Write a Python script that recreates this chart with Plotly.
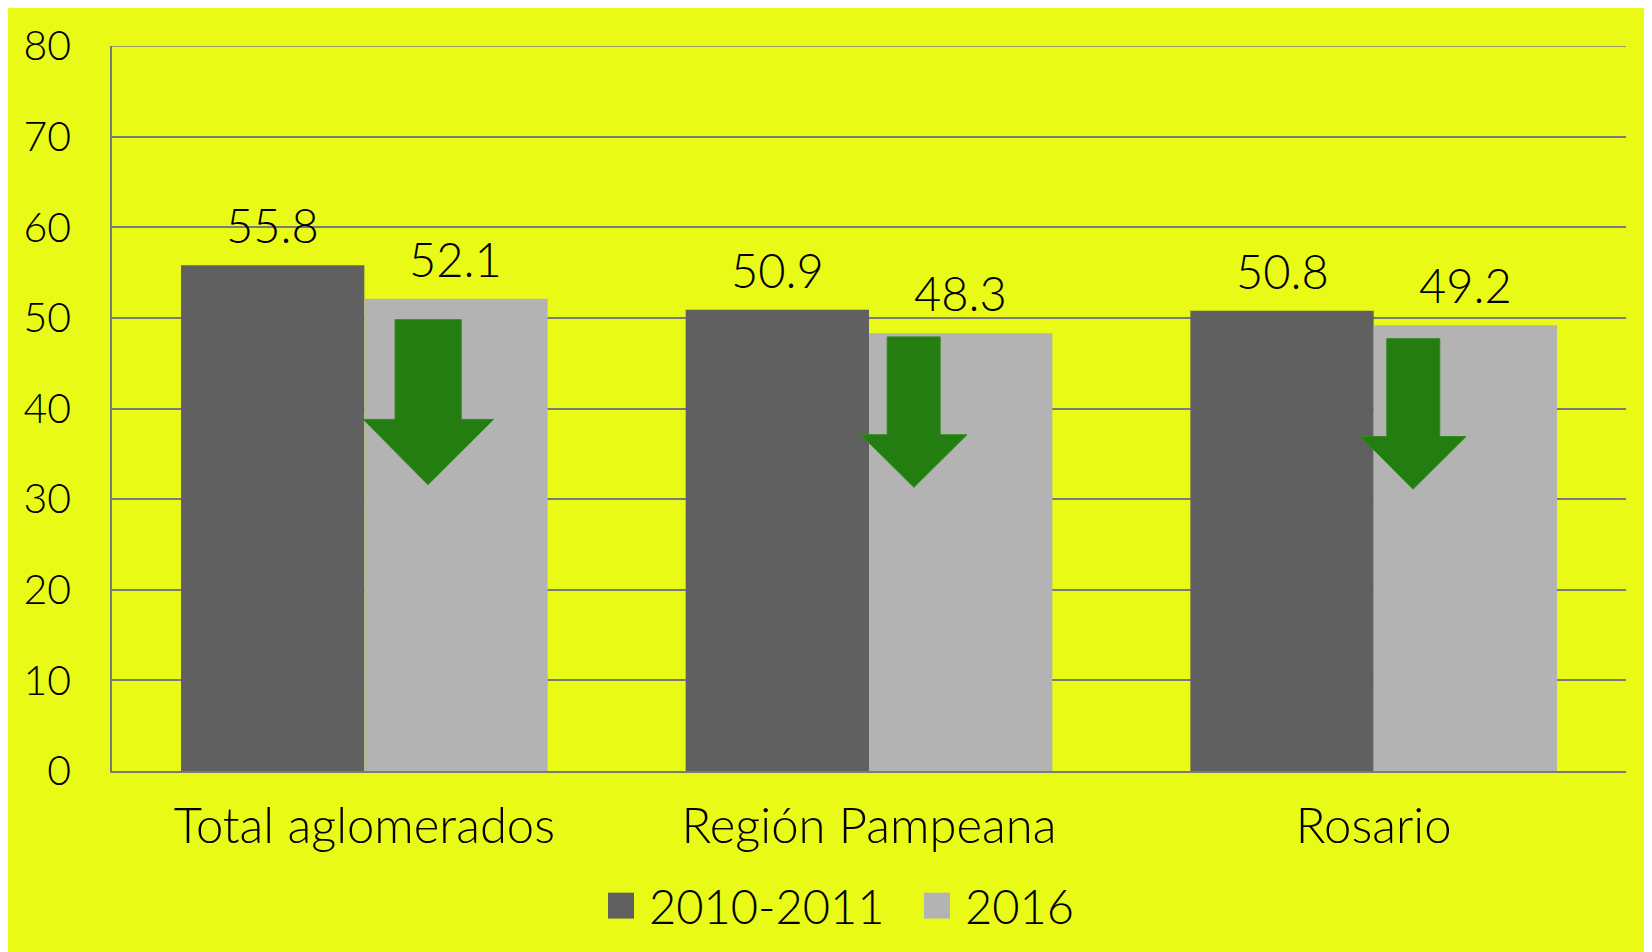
import plotly.graph_objects as go

categories = ["Total aglomerados", "Región Pampeana", "Rosario"]
series_names = ["2010-2011", "2016"]
values_2010 = [55.8, 50.9, 50.8]
values_2016 = [52.1, 48.3, 49.2]
y_ticks = [0, 10, 20, 30, 40, 50, 60, 70, 80]

# arrow geometry (value levels)
arrow_top = [49.8, 47.9, 47.7]
arrow_head = [38.8, 37.1, 36.9]
arrow_tip = [31.6, 31.3, 31.1]
# horizontal offsets within the category (category units)
arrow_shaft_l = [0.061, 0.036, 0.026]
arrow_shaft_r = [0.192, 0.141, 0.131]
arrow_head_l = [-0.002, -0.016, -0.026]
arrow_head_r = [0.256, 0.194, 0.183]
arrow_tip_x = [0.126, 0.089, 0.078]

YELLOW = "#E9FA16"
DARK = "#606060"
LIGHT = "#B3B3B3"
GREEN = "#237D10"
GRID = "#7A7A7A"
FONT = "Lato Light, Lato"

W, H = 1644, 944
ML, MR, MT, MB = 104, 26, 36, 181
PW = W - ML - MR
PH = H - MT - MB

BARGAP = 0.2735
bw = (1 - BARGAP) / 2
xs = list(range(len(categories)))

fig = go.Figure()
fig.add_trace(go.Bar(x=xs, y=values_2010, name=series_names[0], marker=dict(color=DARK, line=dict(width=0)),
                     showlegend=False))
fig.add_trace(go.Bar(x=xs, y=values_2016, name=series_names[1], marker=dict(color=LIGHT, line=dict(width=0)),
                     showlegend=False))

shapes = []
annotations = []


def px2paper_x(px):
    return (px - ML) / PW


def px2paper_y(py):
    return (H - MB - py) / PH


# data labels
for i in xs:
    for vals, off in ((values_2010, -bw / 2), (values_2016, bw / 2)):
        annotations.append(dict(x=i + off, y=vals[i], xref="x", yref="y", text=f"{vals[i]:.1f}",
                                showarrow=False, yanchor="bottom", yshift=10,
                                font=dict(family=FONT, size=47, color="#000000", weight=300)))

# arrows
for i in xs:
    c = i
    p = (f"M{c+arrow_shaft_l[i]},{arrow_top[i]} L{c+arrow_shaft_r[i]},{arrow_top[i]} "
         f"L{c+arrow_shaft_r[i]},{arrow_head[i]} L{c+arrow_head_r[i]},{arrow_head[i]} "
         f"L{c+arrow_tip_x[i]},{arrow_tip[i]} L{c+arrow_head_l[i]},{arrow_head[i]} "
         f"L{c+arrow_shaft_l[i]},{arrow_head[i]} Z")
    shapes.append(dict(type="path", xref="x", yref="y", path=p, fillcolor=GREEN,
                       line=dict(color="#2E8A1A", width=1), layer="above"))

# top gridline at the range end
shapes.append(dict(type="line", xref="paper", yref="y", x0=0, x1=1, y0=y_ticks[-1], y1=y_ticks[-1],
                   line=dict(color=GRID, width=1.5), layer="below"))

# custom legend (figure px)
leg_items = [(series_names[0], DARK, 600, 639), (series_names[1], LIGHT, 916, 955)]
for name, col, sx, tx in leg_items:
    shapes.append(dict(type="rect", xref="paper", yref="paper",
                       x0=px2paper_x(sx), x1=px2paper_x(sx + 26),
                       y0=px2paper_y(911), y1=px2paper_y(885),
                       fillcolor=col, line=dict(width=0)))
    annotations.append(dict(x=px2paper_x(tx), y=px2paper_y(898), xref="paper", yref="paper",
                            text=name, showarrow=False, xanchor="left", yanchor="middle",
                            font=dict(family=FONT, size=47, color="#000000", weight=300)))

fig.update_layout(
    width=W, height=H,
    margin=dict(l=ML, r=MR, t=MT, b=MB, pad=0),
    paper_bgcolor=YELLOW,
    plot_bgcolor=YELLOW,
    barmode="group",
    bargap=BARGAP,
    bargroupgap=0,
    shapes=shapes,
    annotations=annotations,
    showlegend=False,
    font=dict(family=FONT, color="#000000", weight=300),
)
fig.update_xaxes(range=[-0.5, 2.5], tickvals=xs, ticktext=categories, showgrid=False,
                 showline=True, linecolor=GRID, linewidth=1.5, ticks="", zeroline=False,
                 ticklabelstandoff=11, tickfont=dict(family=FONT, size=49, color="#000000", weight=300))
fig.update_yaxes(range=[0, 80], tickvals=y_ticks, showgrid=True, gridcolor=GRID, gridwidth=1.5,
                 showline=True, linecolor=GRID, linewidth=1.5, ticks="", zeroline=False,
                 ticklabelstandoff=31, tickfont=dict(family=FONT, size=41, color="#000000", weight=300))

fig.write_html("out.html")
